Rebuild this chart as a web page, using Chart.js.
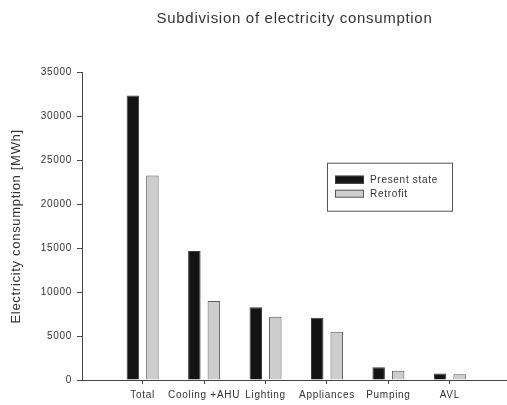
<!DOCTYPE html>
<html>
<head>
<meta charset="utf-8">
<script src="https://cdn.jsdelivr.net/npm/chart.js@4.4.1/dist/chart.umd.min.js"></script>
<style>
  html, body { margin: 0; padding: 0; background: #fff; }
</style>
</head>
<body>
<canvas id="myChart" width="507" height="405"></canvas>
<script>
// values
const categories = ['Total', 'Cooling +AHU', 'Lighting', 'Appliances', 'Pumping', 'AVL']
const presentState = [32400, 14700, 8300, 7100, 1450, 750]
const retrofit = [23300, 9000, 7200, 5500, 1050, 650]
const yTicks = [0, 5000, 10000, 15000, 20000, 25000, 30000, 35000]
const seriesNames = ['Present state', 'Retrofit']

const FONT = "'Liberation Sans', Arial, sans-serif"
const axisColor = '#444'
const textColor = '#333'

// wider lettering like the old SigmaPlot export
const spacing = {
    id: 'spacing',
    beforeUpdate(chart) { chart.ctx.letterSpacing = '0.7px' },
    beforeDraw(chart) { chart.ctx.letterSpacing = '0.7px' }
}

// boxed legend sitting inside the plot
const boxLegend = {
    id: 'boxLegend',
    afterDraw(chart) {
        const ctx = chart.ctx
        const area = chart.chartArea
        const x = area.left + 245
        const y = area.top + 90
        ctx.save()
        ctx.strokeStyle = '#555'
        ctx.lineWidth = 1
        ctx.strokeRect(x + 0.5, y + 0.5, 125, 48)
        ctx.font = '10px ' + FONT
        ctx.textBaseline = 'middle'
        chart.data.datasets.forEach((ds, i) => {
            const sy = y + 13 + i * 14
            ctx.fillStyle = ds.backgroundColor
            ctx.fillRect(x + 8, sy, 29, 8)
            ctx.strokeStyle = ds.borderColor
            ctx.strokeRect(x + 8.5, sy + 0.5, 28, 7)
            ctx.fillStyle = textColor
            ctx.fillText(ds.label, x + 43, sy + 4.5)
        })
        ctx.restore()
    }
}

const toPoints = arr => arr.map((v, i) => ({ x: i, y: v }))

const ctx = document.getElementById('myChart').getContext('2d')
const chart = new Chart(ctx, {
    type: 'bar',
    data: {
        datasets: [
            {
                label: seriesNames[0],
                data: toPoints(presentState),
                backgroundColor: '#141414',
                borderColor: '#3a3a3a',
                borderWidth: 1,
                categoryPercentage: 0.635,
                barPercentage: 0.64
            },
            {
                label: seriesNames[1],
                data: toPoints(retrofit),
                backgroundColor: '#cdcdcd',
                borderColor: '#5a5a5a',
                borderWidth: 1,
                categoryPercentage: 0.635,
                barPercentage: 0.64
            }
        ]
    },
    options: {
        responsive: false,
        animation: false,
        layout: { padding: 0 },
        plugins: {
            legend: { display: false },
            tooltip: { enabled: false },
            title: {
                display: true,
                text: 'Subdivision of electricity consumption',
                fullSize: false,
                color: textColor,
                font: { family: FONT, size: 15, weight: 'normal' },
                padding: { top: 9.5, bottom: 45.2 }
            }
        },
        scales: {
            x: {
                type: 'linear',
                offset: false,
                min: -0.987,
                max: 5.93,
                afterBuildTicks: scale => {
                    scale.ticks = categories.map((c, i) => ({ value: i }))
                },
                afterFit: scale => { scale.height = 25 },
                grid: {
                    offset: false,
                    drawOnChartArea: false,
                    drawTicks: true,
                    tickLength: 4,
                    color: axisColor
                },
                border: { display: true, color: axisColor, width: 1 },
                ticks: {
                    autoSkip: false,
                    maxRotation: 0,
                    padding: 5,
                    color: textColor,
                    font: { family: FONT, size: 10 },
                    callback: v => categories[v]
                }
            },
            y: {
                min: 0,
                max: 35000,
                afterBuildTicks: scale => {
                    scale.ticks = yTicks.map(v => ({ value: v }))
                },
                afterFit: scale => { scale.width = 82 },
                grid: {
                    drawOnChartArea: false,
                    drawTicks: true,
                    tickLength: 5,
                    color: axisColor
                },
                border: { display: true, color: axisColor, width: 1 },
                ticks: {
                    padding: 5,
                    color: textColor,
                    font: { family: FONT, size: 10 },
                    callback: v => String(v)
                },
                title: {
                    display: true,
                    text: 'Electricity consumption [MWh]',
                    color: textColor,
                    font: { family: FONT, size: 13 },
                    padding: { top: 9 }
                }
            }
        }
    },
    plugins: [spacing, boxLegend]
})
</script>
</body>
</html>
